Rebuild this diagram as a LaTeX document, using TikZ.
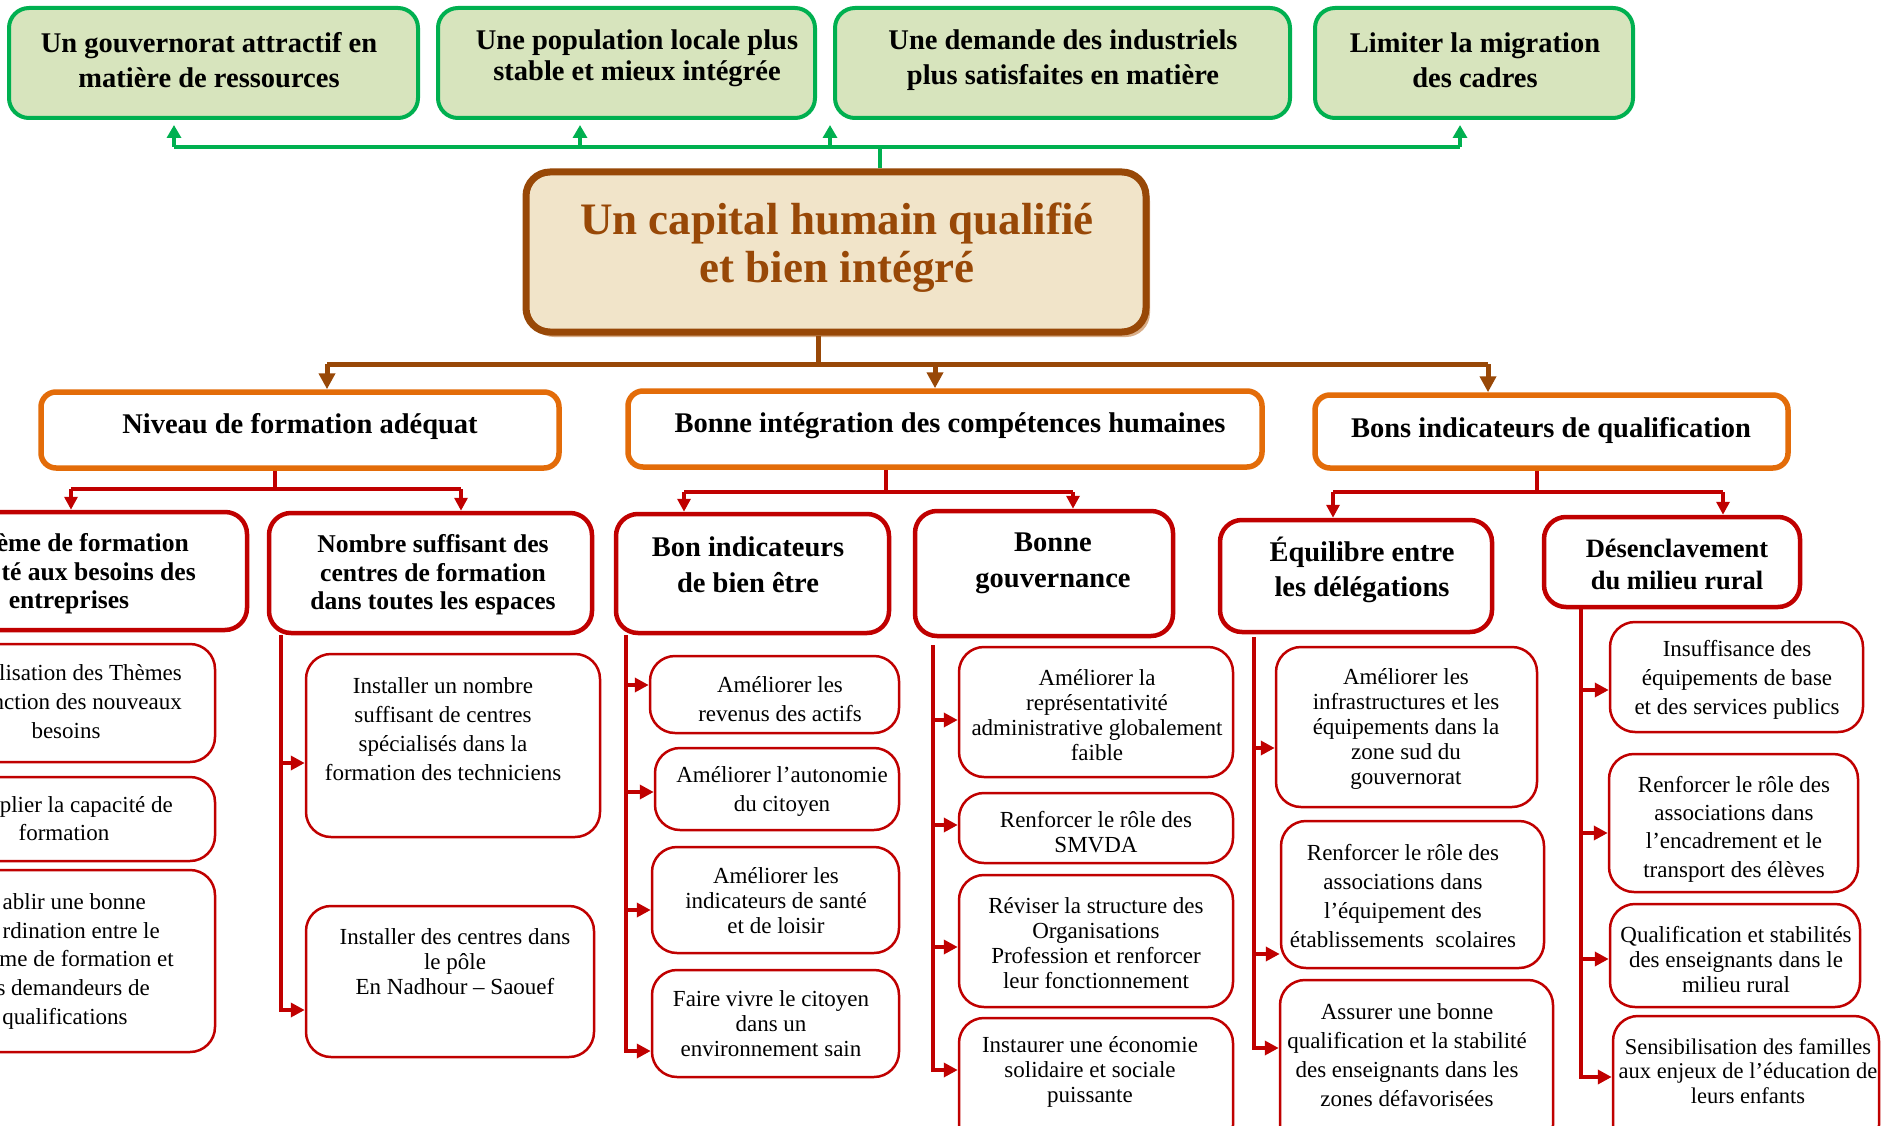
\documentclass[tikz,border=0pt]{standalone}
\usepackage{fontspec}
\setmainfont{Liberation Serif}
\usetikzlibrary{arrows.meta,fit,shadows}
\definecolor{gbord}{HTML}{00B050}
\definecolor{gfill}{HTML}{D7E4BD}
\definecolor{brn}{HTML}{984807}
\definecolor{parch}{HTML}{F1E4C9}
\definecolor{shad}{HTML}{D9AE88}
\definecolor{orng}{HTML}{E36C09}
\definecolor{rd}{HTML}{C00000}
\newcommand\fsz[2]{\fontsize{#1}{#2}\selectfont}
\begin{document}
\begin{tikzpicture}[x=1pt,y=-1pt,
  gbox/.style={draw=gbord, fill=gfill, line width=4pt, rounded corners=20pt, inner sep=0pt},
  cbox/.style={draw=brn, fill=parch, line width=7pt, rounded corners=24pt, inner sep=0pt,
     drop shadow={shadow xshift=4pt, shadow yshift=-5pt, fill=shad, opacity=1}},
  obox/.style={draw=orng, fill=white, line width=5.5pt, rounded corners=15pt, inner sep=0pt},
  rbox/.style={draw=rd, fill=white, line width=4.5pt, rounded corners=22pt, inner sep=0pt},
  lbox/.style={draw=rd, fill=white, line width=2.5pt, rounded corners=25pt, inner sep=0pt},
  htx/.style={align=center, inner sep=0pt, font=\bfseries\fsz{28.5}{35}},
  ctx/.style={align=center, inner sep=0pt, text=brn, font=\bfseries\fsz{45}{48}},
  rtx/.style={align=center, inner sep=0pt, font=\bfseries\fsz{28.5}{36}},
  ltx/.style={align=center, inner sep=0pt, font=\fsz{23}{25}},
  gline/.style={draw=gbord, line width=3.5pt},
  garrow/.style={gline, -{Triangle[length=13pt,width=14pt]}, shorten >=5pt},
  bline/.style={draw=brn, line width=5pt},
  barrow/.style={bline, -{Triangle[length=16pt,width=16pt]}},
  rline/.style={draw=rd, line width=4.5pt},
  rarrowd/.style={rline, -{Triangle[length=13pt,width=13pt]}},
  rarrow/.style={rline, -{Triangle[length=14pt,width=14pt]}}
]
\useasboundingbox (0,0) rectangle (1886,1126);
\fill[white] (0,0) rectangle (1886,1126);

% ---------- top green boxes ----------
\node[gbox, fit={(9,8) (418,118)}] (g1) {};
\node[gbox, fit={(438,8) (815,118)}] (g2) {};
\node[gbox, fit={(835,8) (1290,118)}] (g3) {};
\node[gbox, fit={(1315,8) (1633,118)}] (g4) {};
\node[htx] (g1t) at (209,60) {Un gouvernorat attractif en\\matière de ressources};
\node[htx, font=\bfseries\fsz{28.5}{31}] (g2t) at (637,58) {Une population locale plus\\stable et mieux intégrée};
\node[htx] (g3t) at (1063,60) {Une demande des industriels\\plus satisfaites en matière};
\node[htx] (g4t) at (1475,60) {Limiter la migration\\des cadres};

% ---------- central box ----------
\node[cbox, fit={(526,172) (1146,332)}] (cen) {};
\node[ctx] (cent) at (837,248) {Un capital humain qualifié\\et bien intégré};

% green connectors
\coordinate (gj) at (880,147);
\coordinate (gL) at (174,147);
\coordinate (gx2) at (580,147);
\coordinate (gx3) at (830,147);
\coordinate (gR) at (1460,147);
\draw[gline] (cen.north -| gj) -- (gj);
\draw[gline] (gL) -- (gR);
\draw[garrow] (gL) -- (g1.south -| gL);
\draw[garrow] (gx2) -- (g2.south -| gx2);
\draw[garrow] (gx3) -- (g3.south -| gx3);
\draw[garrow] (gR) -- (g4.south -| gR);

% ---------- orange boxes ----------
\node[obox, fit={(41,392) (559,468)}] (o1) {};
\node[obox, fit={(628,391) (1262,467)}] (o2) {};
\node[obox, fit={(1315,395) (1788,468)}] (o3) {};
\node[htx] (o1t) at (300,426) {Niveau de formation adéquat};
\node[htx] (o2t) at (950,426) {Bonne intégration des compétences humaines};
\node[htx] (o3t) at (1551,430) {Bons indicateurs de qualification};

% brown connectors
\coordinate (bj) at (818,364);
\coordinate (bL) at (327,364);
\coordinate (bM) at (935,364);
\coordinate (bR) at (1488,364);
\draw[bline] (cen.south -| bj) -- (bj);
\draw[bline] (bL) -- (bR);
\draw[barrow] (bL) -- (o1.north -| bL);
\draw[barrow] (bM) -- (o2.north -| bM);
\draw[barrow] (bR) -- (o3.north -| bR);

% ---------- level 3 red boxes ----------
\node[rbox, fit={(-110,512) (247,630)}] (r1) {};
\node[rbox, fit={(269,513) (592,633)}] (r2) {};
\node[rbox, fit={(616,514) (889,633)}] (r3) {};
\node[rbox, fit={(915,511) (1173,636)}] (r4) {};
\node[rbox, fit={(1220,520) (1492,632)}] (r5) {};
\node[rbox, fit={(1544,517) (1800,607)}] (r6) {};
\node[htx, font=\bfseries\fsz{25.6}{28.5}, anchor=mid east] (r1a) at (189,549) {ème de formation};
\node[htx, font=\bfseries\fsz{25.6}{28.5}, anchor=mid east] (r1b) at (196,578) {té aux besoins des};
\node[htx, font=\bfseries\fsz{25.6}{28.5}, anchor=mid] (r1c) at (69,606) {entreprises};
\node[htx, font=\bfseries\fsz{25.6}{28.5}] (r2t) at (433,575) {Nombre suffisant des\\centres de formation\\dans toutes les espaces};
\node[rtx] (r3t) at (748,565) {Bon indicateurs\\de bien être};
\node[rtx] (r4t) at (1053,563) {Bonne\\gouvernance};
\node[rtx, font=\bfseries\fsz{28.5}{35}] (r5t) at (1362,570) {Équilibre entre\\les délégations};
\node[rtx, font=\bfseries\fsz{26.5}{32}] (r6t) at (1677,564) {Désenclavement\\du milieu rural};

% red level-2 connectors
\coordinate (p1) at (275,489); \coordinate (p1L) at (71,489); \coordinate (p1R) at (461,489);
\draw[rline] (o1.south -| p1) -- (p1);
\draw[rline] (p1L) -- (p1R);
\draw[rarrowd] (p1L) -- (r1.north -| p1L);
\draw[rarrowd] (p1R) -- (r2.north -| p1R);
\coordinate (p2) at (886,492); \coordinate (p2L) at (684,492); \coordinate (p2R) at (1073,492);
\draw[rline] (o2.south -| p2) -- (p2);
\draw[rline] (p2L) -- (p2R);
\draw[rarrowd] (p2L) -- (r3.north -| p2L);
\draw[rarrowd] (p2R) -- (r4.north -| p2R);
\coordinate (p3) at (1537,492); \coordinate (p3L) at (1333,492); \coordinate (p3R) at (1723,492);
\draw[rline] (o3.south -| p3) -- (p3);
\draw[rline] (p3L) -- (p3R);
\draw[rarrowd] (p3L) -- (r5.north -| p3L);
\draw[rarrowd] (p3R) -- (r6.north -| p3R);

% ---------- leaves: left (cut) column ----------
\node[lbox, fit={(-100,644) (215,762)}] (l1) {};
\node[lbox, fit={(-100,777) (215,861)}] (l2) {};
\node[lbox, fit={(-100,870) (215,1052)}] (l3) {};
\node[ltx, anchor=mid east] (l1a) at (182,678) {lisation des Thèmes};
\node[ltx, anchor=mid east] (l1b) at (182,707) {nction des nouveaux};
\node[ltx, anchor=mid] (l1c) at (66,736) {besoins};
\node[ltx, anchor=mid east] (l2a) at (173,810) {iplier la capacité de};
\node[ltx, anchor=mid] (l2b) at (64,838) {formation};
\node[ltx, anchor=mid east] (l3a) at (146,907) {ablir une bonne};
\node[ltx, anchor=mid east] (l3b) at (160,936) {rdination entre le};
\node[ltx, anchor=mid east] (l3c) at (174,964) {me de formation et};
\node[ltx, anchor=mid east] (l3d) at (150,993) {s demandeurs de};
\node[ltx, anchor=mid] (l3e) at (65,1022) {qualifications};

% ---------- leaves under R2 ----------
\node[lbox, fit={(306,654) (600,837)}] (a1) {};
\node[lbox, fit={(306,906) (594,1057)}] (a2) {};
\node[ltx, font=\fsz{23}{29}] (a1t) at (443,729) {Installer un nombre\\suffisant de centres\\spécialisés dans la\\formation des techniciens};
\node[ltx] (a2t) at (455,962) {Installer des centres dans\\le pôle\\En Nadhour – Saouef};
\coordinate (s2) at (281,0);
\draw[rarrow] ([yshift=-17.5pt]a1.west -| s2) -- ([yshift=-17.5pt]a1.west);
\draw[rarrow] (r2.south -| s2) |- ([yshift=-28.5pt]a2.west);

% ---------- leaves under R3 ----------
\node[lbox, fit={(650,656) (899,733)}] (b1) {};
\node[lbox, fit={(655,748) (899,830)}] (b2) {};
\node[lbox, fit={(652,847) (899,953)}] (b3) {};
\node[lbox, fit={(652,970) (899,1077)}] (b4) {};
\node[ltx, font=\fsz{23}{29}] (b1t) at (780,699) {Améliorer les\\revenus des actifs};
\node[ltx, font=\fsz{23}{29}] (b2t) at (782,791) {Améliorer l’autonomie\\du citoyen};
\node[ltx] (b3t) at (776,901) {Améliorer les\\indicateurs de santé\\et de loisir};
\node[ltx] (b4t) at (771,1024) {Faire vivre le citoyen\\dans un\\environnement sain};
\coordinate (s3) at (626,0);
\draw[rarrow] ([yshift=9.5pt]b1.west -| s3) -- ([yshift=9.5pt]b1.west);
\draw[rarrow] ([yshift=-3pt]b2.west -| s3) -- ([yshift=-3pt]b2.west);
\draw[rarrow] ([yshift=-10pt]b3.west -| s3) -- ([yshift=-10pt]b3.west);
\draw[rarrow] (r3.south -| s3) |- ([yshift=-27.5pt]b4.west);

% ---------- leaves under R4 ----------
\node[lbox, fit={(959,647) (1233,777)}] (c1) {};
\node[lbox, fit={(959,793) (1233,863)}] (c2) {};
\node[lbox, fit={(959,875) (1233,1007)}] (c3) {};
\node[lbox, fit={(959,1018) (1233,1150)}] (c4) {};
\node[ltx] (c1t) at (1097,715) {Améliorer la\\représentativité\\administrative globalement\\faible};
\node[ltx] (c2t) at (1096,832) {Renforcer le rôle des\\SMVDA};
\node[ltx] (c3t) at (1096,943) {Réviser la structure des\\Organisations\\Profession et renforcer\\leur fonctionnement};
\node[ltx] (c4t) at (1090,1072) {Instaurer une économie\\solidaire et sociale\\puissante};
\coordinate (s4) at (933,0);
\draw[rarrow] ([yshift=-8pt]c1.west -| s4) -- ([yshift=-8pt]c1.west);
\draw[rarrow] ([yshift=3pt]c2.west -| s4) -- ([yshift=3pt]c2.west);
\draw[rarrow] ([yshift=-6pt]c3.west -| s4) -- ([yshift=-6pt]c3.west);
\draw[rarrow] ([yshift=-7pt]r4.south -| s4) |- ([yshift=14pt]c4.west);

% ---------- leaves under R5 ----------
\node[lbox, fit={(1276,647) (1537,807)}] (d1) {};
\node[lbox, fit={(1281,821) (1544,968)}] (d2) {};
\node[lbox, fit={(1280,980) (1553,1150)}] (d3) {};
\node[ltx] (d1t) at (1406,729) {Améliorer les\\infrastructures et les\\équipements dans la\\zone sud du\\gouvernorat};
\node[ltx, font=\fsz{23}{28.7}] (d2t) at (1403,896) {Renforcer le rôle des\\associations dans\\l’équipement des\\établissements\enspace scolaires};
\node[ltx, font=\fsz{23}{29}] (d3t) at (1407,1055) {Assurer une bonne\\qualification et la stabilité\\des enseignants dans les\\zones défavorisées};
\coordinate (s5) at (1254,0);
\draw[rarrow] ([yshift=-21pt]d1.west -| s5) -- ([yshift=-21pt]d1.west);
\draw[rarrow] ([yshift=-59.5pt]d2.west -| s5) -- ([yshift=-59.5pt]d2.west);
\draw[rarrow] ([yshift=-3pt]r5.south -| s5) |- ([yshift=17pt]d3.west);

% ---------- leaves under R6 ----------
\node[lbox, fit={(1610,622) (1863,732)}] (e1) {};
\node[lbox, fit={(1609,754) (1858,892)}] (e2) {};
\node[lbox, fit={(1610,904) (1860,1007)}] (e3) {};
\node[lbox, fit={(1613,1016) (1879,1150)}] (e4) {};
\node[ltx, font=\fsz{23}{29}] (e1t) at (1737,680) {Insuffisance des\\équipements de base\\et des services publics};
\node[ltx, font=\fsz{23}{28.3}] (e2t) at (1734,829) {Renforcer le rôle des\\associations dans\\l’encadrement et le\\transport des élèves};
\node[ltx] (e3t) at (1736,960) {Qualification et stabilités\\des enseignants dans le\\milieu rural};
\node[ltx, font=\fsz{22.5}{24.5}] (e4t) at (1748,1071) {Sensibilisation des familles\\aux enjeux de l’éducation de\\leurs enfants};
\coordinate (s6) at (1581,0);
\draw[rarrow] ([yshift=-13pt]e1.west -| s6) -- ([yshift=-13pt]e1.west);
\draw[rarrow] ([yshift=-10pt]e2.west -| s6) -- ([yshift=-10pt]e2.west);
\draw[rarrow] ([yshift=-3.5pt]e3.west -| s6) -- ([yshift=-3.5pt]e3.west);
\draw[rarrow] (r6.south -| s6) |- ([yshift=6pt]e4.west);
\end{tikzpicture}
\end{document}
